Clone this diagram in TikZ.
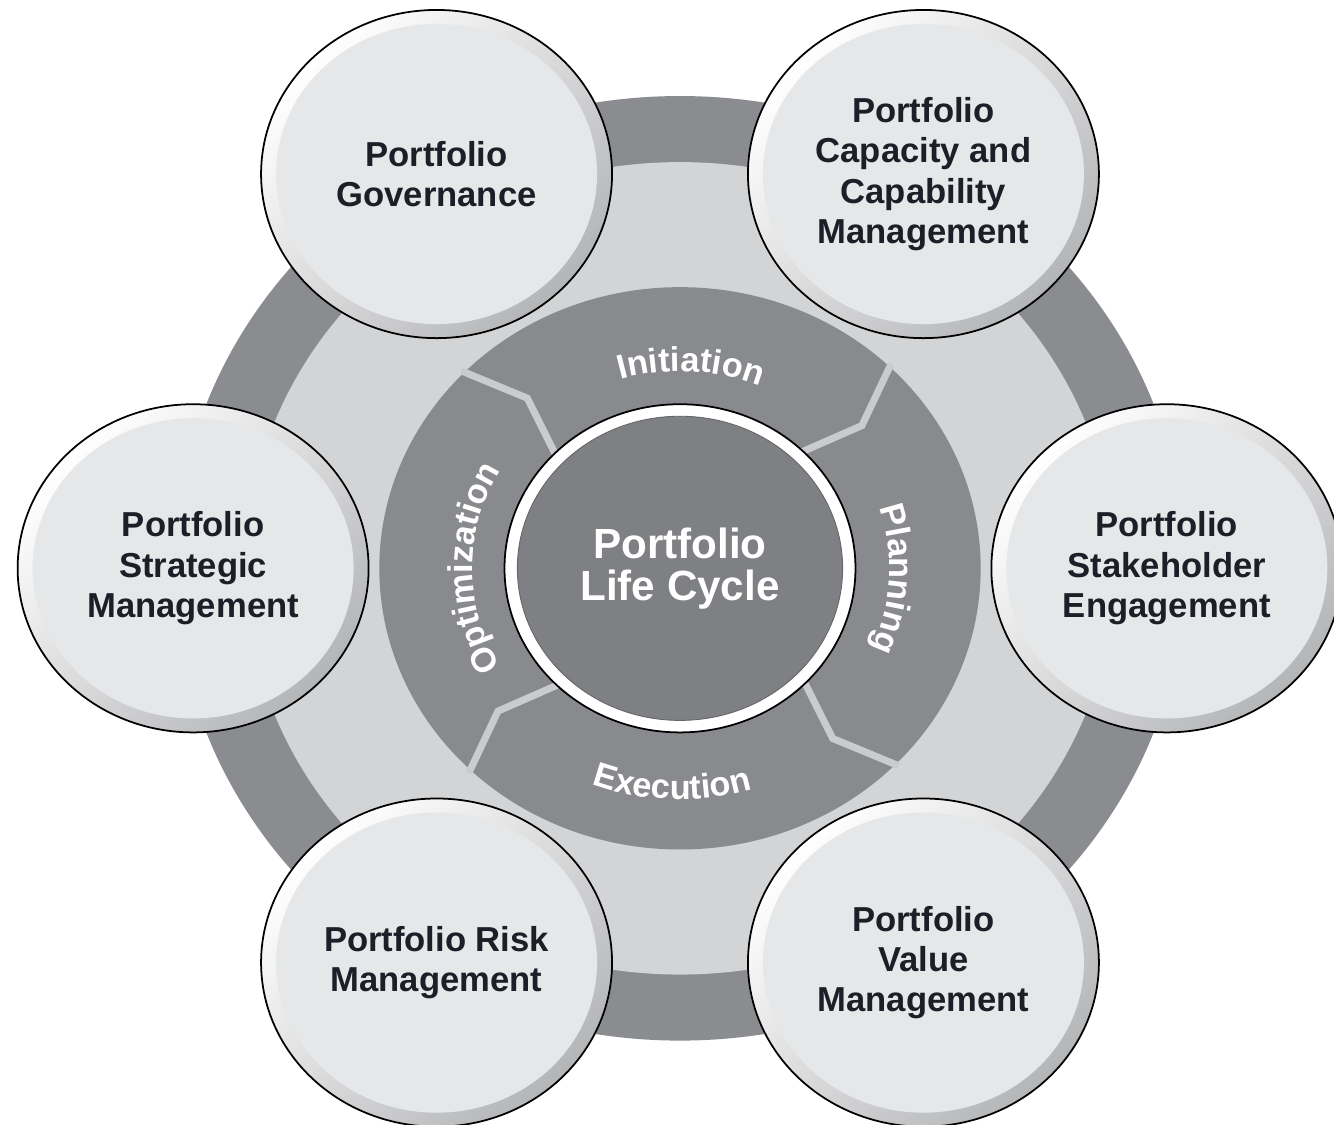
\documentclass[tikz,border=0pt]{standalone}
\usepackage{fontspec}
\setmainfont{Liberation Sans}
\usetikzlibrary{decorations.text}

\definecolor{ringdark}{HTML}{8B8C8F}
\definecolor{bandlight}{HTML}{D3D4D6}
\definecolor{cyclegray}{HTML}{898A8D}
\definecolor{splitline}{HTML}{CACBCD}
\definecolor{hubgray}{HTML}{7F8083}
\definecolor{discfill}{HTML}{E6E7E8}
\definecolor{rimshade}{HTML}{B4B5B7}
\definecolor{boxink}{HTML}{1E1E28}

\newcommand\ringlabelfont{\fontsize{19.5}{24}\selectfont\bfseries\addfontfeature{LetterSpace=4}}

\begin{document}
\begin{tikzpicture}[x=0.0214cm, y=0.02cm,
  boxtext/.style={align=center, font=\fontsize{19.7}{23}\selectfont\bfseries,
                  text=boxink, inner sep=0pt},
  hubtext/.style={align=center, font=\fontsize{24}{24}\selectfont\bfseries,
                  text=white, inner sep=0pt},
  divider/.style={draw=splitline, line width=4pt, line join=miter, line cap=butt},
  ringlabel/.style={decorate, decoration={text along path, text align=center,
                  text color=white, text={|\ringlabelfont|#1}}},
]
% page
\fill[white] (-635.5,-556) rectangle (611.2,568);
\clip (-635.5,-556) rectangle (611.2,568);

% outer band, light band, life-cycle ring
\fill[ringdark] (0,0) circle[radius=472];
\fill[bandlight] (0,0) circle[radius=406];
\fill[cyclegray] (0,0) circle[radius=281];

% chevron-shaped separators between the four phases
\foreach \a in {46,136,226,316}
  \draw[divider] (\a:284) -- ({\a-6}:222) -- (\a:160);

% hub
\filldraw[fill=white, draw=black, line width=1pt] (0,0) circle[radius=164];
\filldraw[fill=hubgray, draw=black!60, line width=0.5pt] (0,0) circle[radius=152];
\node[hubtext] (hub) at (0,0) {Portfolio\\Life Cycle};

% phase labels along the ring
\path[ringlabel=Initiation] (127:197) arc[start angle=127, end angle=47, radius=197];
\path[ringlabel=Planning] (37:196) arc[start angle=37, end angle=-43, radius=196];
\path[ringlabel=Optimization] (220:194) arc[start angle=220, end angle=140, radius=194];
\path[ringlabel=Execution] (228:231) arc[start angle=228, end angle=308, radius=231];

% six knowledge-area discs
\foreach \t in {0,60,...,300} {
  \shade[top color=white, bottom color=rimshade, shading angle=45]
    (\t:455) circle[radius=164];
  \fill[discfill] (\t:455) circle[radius=150];
  \draw[black, line width=1pt] (\t:455) circle[radius=164];
}

\node[boxtext] (stake) at (0:455)   {Portfolio\\Stakeholder\\Engagement};
\node[boxtext] (capa)  at (60:455)  {Portfolio\\Capacity and\\Capability\\Management};
\node[boxtext] (gov)   at (120:455) {Portfolio\\Governance};
\node[boxtext] (strat) at (180:455) {Portfolio\\Strategic\\Management};
\node[boxtext] (risk)  at (240:455) {Portfolio Risk\\Management};
\node[boxtext] (value) at (300:455) {Portfolio\\Value\\Management};
\end{tikzpicture}
\end{document}
